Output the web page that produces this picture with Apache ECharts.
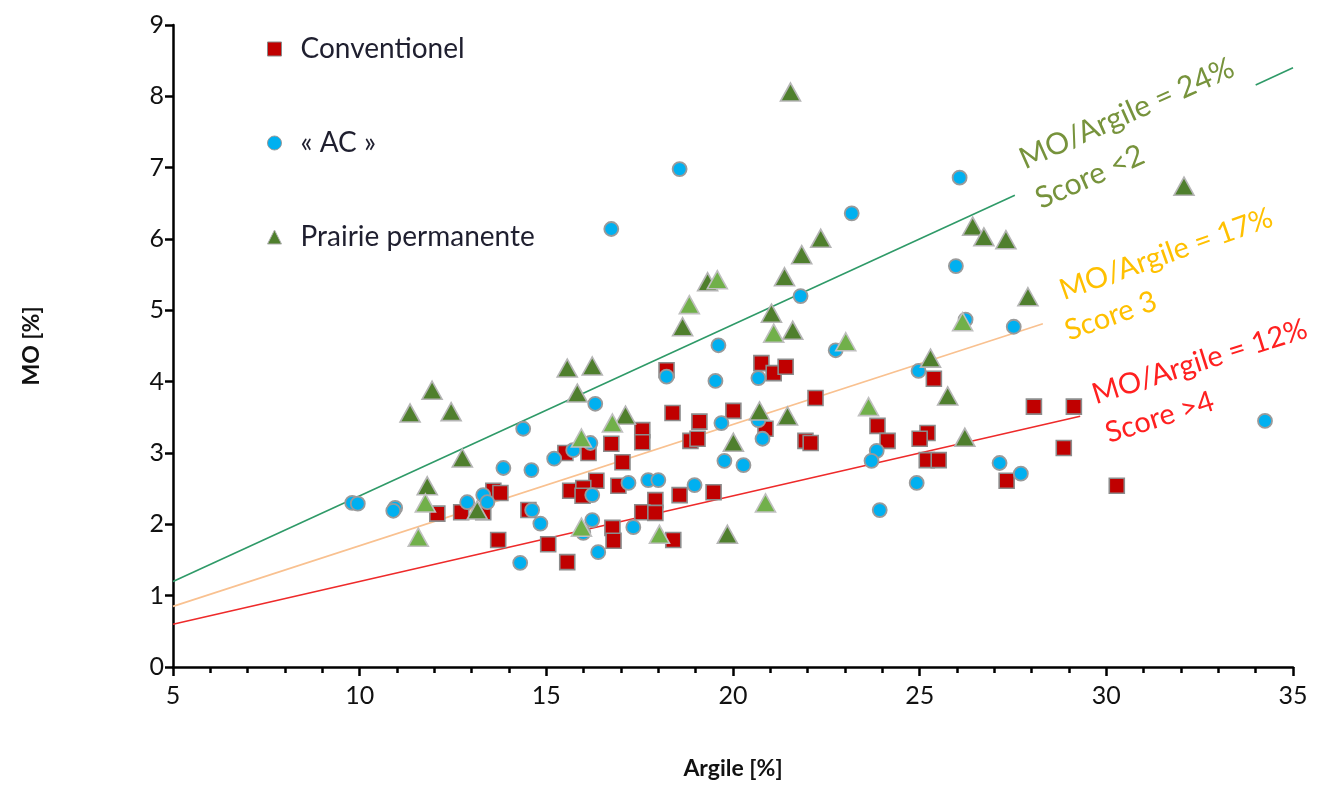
<!DOCTYPE html>
<html>
<head>
<meta charset="utf-8">
<script src="https://cdn.jsdelivr.net/npm/echarts@6/dist/echarts.min.js"></script>
<style>
html,body{margin:0;padding:0;background:#fff;}
#chart{width:1343px;height:785px;}
</style>
</head>
<body>
<div id="chart"></div>
<script>
// ---------------- DATA ----------------
var seriesNames = ['Conventionel', '\u00AB AC \u00BB', 'Prairie permanente'];

var conventionel = [
  [16.74,3.13],[15.51,3.00],[16.13,3.00],[17.04,2.87],[16.34,2.61],[15.64,2.47],[15.99,2.51],[15.97,2.40],
  [17.57,3.32],[17.57,3.15],[16.93,2.54],[17.92,2.34],[17.57,2.17],[17.92,2.16],[16.77,1.95],[16.80,1.77],
  [15.05,1.72],[15.56,1.47],[13.71,1.78],[12.08,2.15],[12.72,2.17],[13.58,2.47],[13.77,2.44],[13.31,2.17],
  [14.52,2.20],[18.22,4.16],[20.76,4.26],[21.09,4.12],[21.41,4.21],[22.21,3.77],[18.38,3.56],[20.01,3.59],
  [19.10,3.44],[18.86,3.17],[19.05,3.20],[20.87,3.34],[21.94,3.17],[22.08,3.14],[23.87,3.38],[24.14,3.17],
  [18.57,2.41],[19.48,2.45],[18.40,1.78],[25.21,3.28],[25.00,3.20],[25.38,4.04],[25.19,2.90],[25.51,2.90],
  [28.06,3.65],[29.13,3.65],[28.86,3.07],[27.33,2.61],[30.28,2.54]
];

var ac = [
  [9.80,2.30],[9.95,2.29],[10.95,2.23],[10.90,2.19],[12.88,2.31],[13.31,2.41],[13.42,2.31],[14.38,3.34],
  [13.85,2.79],[14.60,2.76],[15.21,2.92],[15.72,3.04],[16.18,3.14],[16.31,3.69],[16.23,2.41],[14.62,2.20],
  [14.84,2.01],[16.23,2.06],[15.99,1.88],[16.39,1.61],[14.30,1.46],[17.20,2.58],[17.73,2.62],[18.00,2.62],
  [17.33,1.96],[18.22,4.07],[19.53,4.01],[20.68,4.05],[19.69,3.42],[20.79,3.20],[20.68,3.46],[19.77,2.89],
  [20.28,2.83],[18.97,2.55],[23.85,3.03],[23.71,2.89],[23.93,2.20],[24.97,4.15],[24.92,2.58],[27.14,2.86],
  [27.71,2.71],[27.52,4.77],[25.97,5.62],[26.07,6.86],[23.18,6.36],[21.81,5.20],[19.61,4.51],[22.75,4.44],
  [18.57,6.98],[16.74,6.14],[34.25,3.45],[26.23,4.87]
];

var prairieDark = [
  [11.35,3.56],[11.94,3.88],[12.45,3.58],[12.75,2.93],[11.81,2.54],[13.15,2.20],[15.56,4.19],[16.23,4.22],
  [15.83,3.84],[17.12,3.53],[18.65,4.77],[19.32,5.40],[21.38,5.47],[21.03,4.96],[21.60,4.72],[21.84,5.78],
  [22.35,6.01],[21.54,8.06],[20.01,3.15],[20.71,3.59],[21.46,3.52],[19.85,1.86],[25.29,4.33],[25.75,3.80],
  [26.21,3.22],[26.42,6.18],[26.72,6.03],[27.31,5.99],[27.90,5.19],[32.08,6.74]
];

var prairieLight = [
  [11.76,2.30],[11.57,1.82],[15.94,3.21],[15.94,1.96],[16.77,3.42],[18.03,1.86],[18.83,5.08],[19.58,5.43],
  [21.09,4.68],[20.87,2.30],[23.02,4.56],[23.63,3.65],[26.15,4.84]
];

// reference ratio lines MO/Argile
var ratios = [0.24, 0.17, 0.12];
var ratioLabels = ['MO/Argile = 24%', 'MO/Argile = 17%', 'MO/Argile = 12%'];
var scoreLabels = ['Score <2', 'Score 3', 'Score >4'];
var ratioRanges = [[[5, 27.55], [34.0, 35]], [[5, 28.3]], [[5, 29.3]]];

var xTicks = [5, 10, 15, 20, 25, 30, 35];
var yTicks = [0, 1, 2, 3, 4, 5, 6, 7, 8, 9];

// ---------------- CHART ----------------
var FONT = 'Lato, "Open Sans", sans-serif';
var lineColors = ['#2f9a68', '#f9c190', '#ee2a2a'];
var textColors = ['#77933c', '#ffc000', '#ff2020'];
var textAngles = [24, 19.5, 17.5];
// label anchors in data coordinates [ratio label, score label]
var labelAnchors = [
  [[30.55, 7.76], [29.56, 6.87]],
  [[31.60, 5.79], [30.12, 4.92]],
  [[32.50, 4.28], [31.43, 3.50]]
];

var chart = echarts.init(document.getElementById('chart'), null, {renderer: 'canvas'});

var lineSeries = [];
ratios.forEach(function (r, i) {
  ratioRanges[i].forEach(function (rg) {
    lineSeries.push({
      type: 'line',
      name: ratioLabels[i],
      data: rg.map(function (x) { return [x, r * x]; }),
      symbol: 'none',
      silent: true,
      z: 1,
      lineStyle: {color: lineColors[i], width: 1.6},
      legendHoverLink: false
    });
  });
});

var option = {
  backgroundColor: '#ffffff',
  animation: false,
  grid: {left: 173, right: 50, top: 25, bottom: 118, containLabel: false},
  legend: {
    orient: 'vertical',
    left: 262,
    top: 30,
    itemGap: 66,
    itemWidth: 14,
    itemHeight: 14,
    textStyle: {fontFamily: FONT, fontSize: 28, color: '#1f1f2f', padding: [0, 0, 0, 14]},
    data: [
      {name: seriesNames[0], icon: 'rect', itemStyle: {color: '#c00000', borderColor: '#8a8a8a', borderWidth: 1}},
      {name: seriesNames[1], icon: 'circle', itemStyle: {color: '#00b0f0', borderColor: '#9a9a9a', borderWidth: 1}},
      {name: seriesNames[2], icon: 'triangle', itemStyle: {color: '#4f7f2d', borderColor: '#b0b0b0', borderWidth: 1}}
    ]
  },
  xAxis: {
    type: 'value',
    min: xTicks[0], max: xTicks[xTicks.length - 1], interval: 5,
    name: 'Argile [%]',
    nameLocation: 'middle',
    nameGap: 90,
    nameTextStyle: {fontFamily: FONT, fontSize: 23, fontWeight: 'bold', color: '#111'},
    axisLine: {lineStyle: {color: '#000', width: 2.5}},
    axisTick: {show: true, length: 9, lineStyle: {color: '#000', width: 2.5}},
    minorTick: {show: true, splitNumber: 5, length: 6, lineStyle: {color: '#000', width: 2.5}},
    axisLabel: {fontFamily: FONT, fontSize: 25, color: '#111', margin: 16},
    splitLine: {show: false}
  },
  yAxis: {
    type: 'value',
    min: yTicks[0], max: yTicks[yTicks.length - 1], interval: 1,
    name: 'MO [%]',
    nameLocation: 'middle',
    nameGap: 130,
    nameRotate: 90,
    nameTextStyle: {fontFamily: FONT, fontSize: 23, fontWeight: 'bold', color: '#111'},
    axisLine: {show: true, lineStyle: {color: '#000', width: 2.5}},
    axisTick: {show: true, length: 8, lineStyle: {color: '#000', width: 2.5}},
    axisLabel: {fontFamily: FONT, fontSize: 25, color: '#111', margin: 9},
    splitLine: {show: false}
  },
  series: lineSeries.concat([
    {
      type: 'scatter', name: seriesNames[0], data: conventionel, z: 3,
      symbol: 'rect', symbolSize: 15,
      itemStyle: {color: '#c00000', borderColor: '#8c8c8c', borderWidth: 1.6, opacity: 1}
    },
    {
      type: 'scatter', name: seriesNames[1], data: ac, z: 4,
      symbol: 'circle', symbolSize: 14,
      itemStyle: {color: '#00b0f0', borderColor: '#9a9a9a', borderWidth: 1.8, opacity: 1}
    },
    {
      type: 'scatter', name: seriesNames[2], data: prairieDark, z: 5,
      symbol: 'triangle', symbolSize: [20, 18],
      itemStyle: {color: '#4f7f2d', borderColor: '#b5b5b5', borderWidth: 1.6, opacity: 1}
    },
    {
      type: 'scatter', name: seriesNames[2], data: prairieLight, z: 6,
      symbol: 'triangle', symbolSize: [20, 18],
      itemStyle: {color: '#71b04a', borderColor: '#c0c0c0', borderWidth: 1.6, opacity: 1}
    }
  ])
};

chart.setOption(option);

// annotations positioned through the axes
var graphics = [];
ratios.forEach(function (r, i) {
  var texts = [ratioLabels[i], scoreLabels[i]];
  texts.forEach(function (t, j) {
    var p = chart.convertToPixel({gridIndex: 0}, labelAnchors[i][j]);
    graphics.push({
      type: 'text',
      x: p[0], y: p[1],
      rotation: textAngles[i] * Math.PI / 180,
      silent: true,
      z: 10,
      style: {
        text: t, x: 0, y: 0,
        align: 'center', verticalAlign: 'middle',
        fontFamily: FONT, fontSize: i === 0 ? 30 : 29,
        fill: textColors[i]
      }
    });
  });
});
chart.setOption({graphic: graphics});
</script>
</body>
</html>
